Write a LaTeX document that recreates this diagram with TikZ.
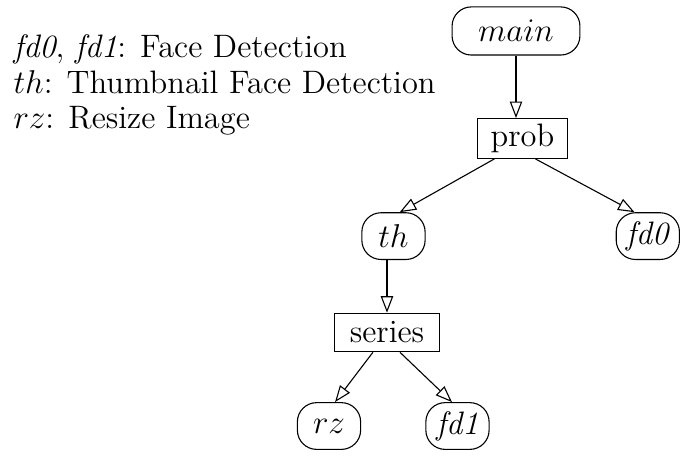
\documentclass[tikz,border=0pt]{standalone}
\usepackage{amsmath, amssymb}
\usepackage{tikz}
\usetikzlibrary{calc,shapes,arrows.meta}

\begin{document}
\begin{tikzpicture}[every node/.style={font=\fontsize{11.8pt}{12.9pt}\selectfont},
        task/.style={draw, rounded corners=7pt, minimum width=23pt, minimum height=17pt, inner sep=2pt},
        comb/.style={draw, minimum height=14pt, inner sep=2pt},
        edge/.style={-{Triangle[open,length=6pt,width=4.5pt]}}]
        \useasboundingbox (0,0) rectangle (8.691,5.828);
        % legend
        \node[anchor=north west, align=left, inner sep=0pt] (legend) at (0.166,5.39)
            {\textit{fd0}, \textit{fd1}: Face Detection\\
             $th$: Thumbnail Face Detection\\
             $rz$: Resize Image};
        % tree
        \node[task, minimum width=46.5pt, minimum height=17.5pt] (main) at (6.595,5.432) {$main$};
        \node[comb, minimum width=33pt] (prob) at (6.678,4.058) {prob};
        \node[task] (th) at (5.029,2.81) {$th$};
        \node[task] (fd0) at (8.28,2.81) {\textit{fd0}};
        \node[comb, minimum width=38pt] (series) at (4.946,1.578) {series};
        \node[task] (rz) at (4.205,0.383) {$rz$};
        \node[task] (fd1) at (5.847,0.383) {\textit{fd1}};
        \draw[edge] (main.south) -- (main.south |- prob.north);
        \draw[edge] ([xshift=-0.36cm]prob.south) -- ([xshift=0.08cm]th.north);
        \draw[edge] ([xshift=0.166cm]prob.south) -- ([xshift=-0.17cm]fd0.north);
        \draw[edge] (th.south -| series.north) -- (series.north);
        \draw[edge] ([xshift=-0.18cm]series.south) -- ([xshift=0.077cm]rz.north);
        \draw[edge] ([xshift=0.166cm]series.south) -- ([xshift=-0.07cm]fd1.north);
    \end{tikzpicture}
\end{document}
